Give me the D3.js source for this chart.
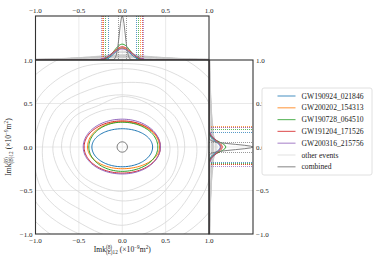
<!DOCTYPE html>
<html><head><meta charset="utf-8">
<script src="https://cdn.jsdelivr.net/npm/d3@7"></script>
<style>body{margin:0;background:#fff}svg{display:block}text{font-family:"Liberation Serif","DejaVu Serif",serif;fill:#222}</style>
</head><body><svg id="c" width="374" height="264"></svg>
<script>
// ---------- data ----------
const events = ["GW190924_021846","GW200202_154313","GW190728_064510","GW191204_171526","GW200316_215756"];
const colors = ["#1f77b4","#ff7f0e","#2ca02c","#d62728","#9467bd"];
// 90% contour extents (x 10^-9 m^2)
const contourLeft   = [0.35, 0.40, 0.385, 0.44, 0.45];
const contourRight  = [0.35, 0.43, 0.41, 0.44, 0.44];
const contourTop    = [0.21, 0.29, 0.285, 0.30, 0.32];
const contourBottom = [0.227, 0.25, 0.28, 0.30, 0.31];
const combinedRadius = 0.06;
// marginals: sigma and peak height (relative)
const xMargSigma = [0.085, 0.10, 0.09, 0.10, 0.11];
const xMargPeak  = [0.27, 0.27, 0.36, 0.30, 0.25];
const yMargSigma = [0.06, 0.07, 0.06, 0.07, 0.075];
const yMargPeak  = [0.26, 0.27, 0.38, 0.30, 0.26];
const combinedSigmaX = 0.033, combinedSigmaY = 0.03, combinedPeak = 1.0;
// credible intervals
const xCILow  = [-0.17, -0.235, -0.20, -0.225, -0.245];
const xCIHigh = [0.16, 0.21, 0.18, 0.23, 0.24];
const yCILow  = [-0.175, -0.19, -0.18, -0.20, -0.215];
const yCIHigh = [0.17, 0.245, 0.21, 0.225, 0.235];
const combinedCIX = [-0.05, 0.045];
const combinedCIY = [-0.06, 0.06];
// other events: contour radii at 0,30,...,330 degrees
const otherContours = [
 [0.55,0.50,0.46,0.44,0.48,0.56,0.60,0.58,0.52,0.51,0.50,0.54],
 [0.64,0.60,0.58,0.58,0.55,0.66,0.70,0.64,0.60,0.62,0.63,0.66],
 [0.72,0.70,0.62,0.60,0.63,0.72,0.80,0.76,0.70,0.77,0.72,0.70],
 [0.86,0.80,0.80,0.74,0.76,0.88,0.92,0.94,0.86,0.90,0.84,0.86],
 [0.98,0.95,0.92,0.90,0.90,0.98,1.02,1.05,1.00,1.05,1.00,0.95],
 [1.06,1.12,1.02,0.96,1.04,1.12,1.10,1.18,1.12,1.10,1.10,1.08],
 [1.15,1.28,1.22,1.06,1.22,1.32,1.20,1.32,1.28,1.15,1.22,1.25],
 [1.32,1.42,1.36,1.22,1.36,1.46,1.30,1.42,1.40,1.30,1.38,1.42]
];
const otherXSigma = [0.35,0.45,0.55,0.30,0.60,0.50,0.40,0.70,0.15,0.18];
const otherXPeak  = [0.10,0.08,0.07,0.12,0.06,0.09,0.11,0.05,0.20,0.17];
const otherYSigma = [0.30,0.40,0.50,0.35,0.60,0.45,0.55,0.70,0.12,0.16];
const otherYPeak  = [0.10,0.09,0.07,0.11,0.06,0.08,0.07,0.05,0.18,0.15];
const ticks = [-1.0,-0.5,0.0,0.5,1.0];
const gridVals = [-0.5,0.0,0.5];

// ---------- layout ----------
const svg = d3.select("#c");
const L=35.5, R=209, T=60, B=234, TT=16, RR=253;
const x = d3.scaleLinear().domain([-1,1]).range([L,R]);
const y = d3.scaleLinear().domain([-1,1]).range([B,T]);
const yTop = d3.scaleLinear().domain([0,1]).range([T,TT]);
const xRight = d3.scaleLinear().domain([0,1]).range([R,RR]);
const fmt = d => d3.format(".1f")(d).replace("-","\u2212");
const snap = v => Math.round(v);

const defs = svg.append("defs");
defs.append("clipPath").attr("id","cm").append("rect").attr("x",L).attr("y",T).attr("width",R-L).attr("height",B-T);
defs.append("clipPath").attr("id","ct").append("rect").attr("x",L).attr("y",TT).attr("width",R-L).attr("height",T-TT);
defs.append("clipPath").attr("id","cr").append("rect").attr("x",R).attr("y",T).attr("width",RR-R).attr("height",B-T);

const gridColor="#e3e3e3";
const gM = svg.append("g");
gridVals.forEach(v=>{
  gM.append("line").attr("x1",x(v)).attr("x2",x(v)).attr("y1",T).attr("y2",B).attr("stroke",gridColor).attr("stroke-width",0.8);
  gM.append("line").attr("x1",L).attr("x2",R).attr("y1",y(v)).attr("y2",y(v)).attr("stroke",gridColor).attr("stroke-width",0.8);
  gM.append("line").attr("x1",x(v)).attr("x2",x(v)).attr("y1",TT).attr("y2",T).attr("stroke",gridColor).attr("stroke-width",0.8);
  gM.append("line").attr("x1",R).attr("x2",RR).attr("y1",y(v)).attr("y2",y(v)).attr("stroke",gridColor).attr("stroke-width",0.8);
});

// main panel
const mainG = svg.append("g").attr("clip-path","url(#cm)");
const angles = d3.range(12).map(i=>i*Math.PI/6);
const closedLine = d3.line().x(d=>x(d[0])).y(d=>y(d[1])).curve(d3.curveCatmullRomClosed);
otherContours.forEach(rs=>{
  const pts = rs.map((r,i)=>[r*Math.cos(angles[i]), r*Math.sin(angles[i])]);
  mainG.append("path").attr("d",closedLine(pts)).attr("fill","none").attr("stroke","#d6d6d6").attr("stroke-width",0.8);
});
const ts = d3.range(0,2*Math.PI,Math.PI/60);
const smoothLine = d3.line().x(d=>x(d[0])).y(d=>y(d[1])).curve(d3.curveLinearClosed);
events.forEach((e,i)=>{
  const pts = ts.map(t=>{const c=Math.cos(t), s=Math.sin(t);
    return [(c>=0?contourRight[i]:contourLeft[i])*c, (s>=0?contourTop[i]:contourBottom[i])*s];});
  mainG.append("path").attr("d",smoothLine(pts)).attr("fill","none").attr("stroke",colors[i]).attr("stroke-width",1);
});
mainG.append("circle").attr("cx",x(0)).attr("cy",y(0)).attr("r",x(combinedRadius)-x(0)).attr("fill","none").attr("stroke","#808080").attr("stroke-width",1);

// dotted helpers (1px dots every 2px)
function vDots(g, xv, y0, y1, color, op){
  d3.range(Math.ceil(y0), y1, 2).forEach(yy=>g.append("rect").attr("x",snap(xv)).attr("y",yy).attr("width",1).attr("height",1).attr("fill",color).attr("fill-opacity",op));
}
function hDots(g, yv, x0, x1, color, op){
  d3.range(Math.ceil(x0), x1, 2).forEach(xx=>g.append("rect").attr("x",xx).attr("y",snap(yv)).attr("width",1).attr("height",1).attr("fill",color).attr("fill-opacity",op));
}

// top marginal
const topG = svg.append("g").attr("clip-path","url(#ct)");
const xs = d3.range(-1,1.0001,0.01);
const gauss = (v,s,p)=>p*Math.exp(-v*v/(2*s*s));
const topLine = d3.line().x(d=>x(d[0])).y(d=>yTop(d[1]));
otherXSigma.forEach((s,i)=>{
  topG.append("path").attr("d",topLine(xs.map(v=>[v,gauss(v,s,otherXPeak[i])]))).attr("fill","none").attr("stroke","#c8c8c8").attr("stroke-width",0.8);
});
events.forEach((e,i)=>{ [xCILow[i],xCIHigh[i]].forEach(v=>vDots(topG, x(v), TT, T, colors[i], 0.75)); });
combinedCIX.forEach(v=>vDots(topG, x(v), TT, T, "#999", 1));
events.forEach((e,i)=>{
  topG.append("path").attr("d",topLine(xs.map(v=>[v,gauss(v,xMargSigma[i],xMargPeak[i])]))).attr("fill","none").attr("stroke",colors[i]).attr("stroke-width",1);
});
topG.append("path").attr("d",topLine(xs.map(v=>[v,gauss(v,combinedSigmaX,combinedPeak)]))).attr("fill","none").attr("stroke","#808080").attr("stroke-width",1);

// right marginal
const rightG = svg.append("g").attr("clip-path","url(#cr)");
const rLine = d3.line().x(d=>xRight(d[1])).y(d=>y(d[0]));
otherYSigma.forEach((s,i)=>{
  rightG.append("path").attr("d",rLine(xs.map(v=>[v,gauss(v,s,otherYPeak[i])]))).attr("fill","none").attr("stroke","#c8c8c8").attr("stroke-width",0.8);
});
events.forEach((e,i)=>{ [yCILow[i],yCIHigh[i]].forEach(v=>hDots(rightG, y(v), R, RR, colors[i], 0.75)); });
combinedCIY.forEach(v=>hDots(rightG, y(v), R, RR, "#999", 1));
events.forEach((e,i)=>{
  rightG.append("path").attr("d",rLine(xs.map(v=>[v,gauss(v,yMargSigma[i],yMargPeak[i])]))).attr("fill","none").attr("stroke",colors[i]).attr("stroke-width",1);
});
rightG.append("path").attr("d",rLine(xs.map(v=>[v,gauss(v,combinedSigmaY,combinedPeak)]))).attr("fill","none").attr("stroke","#808080").attr("stroke-width",1);

// frames
const frame = svg.append("g").attr("fill","none").attr("stroke","#333").attr("stroke-width",1.1);
frame.append("rect").attr("x",L).attr("y",T).attr("width",R-L).attr("height",B-T);
frame.append("rect").attr("x",L).attr("y",TT).attr("width",R-L).attr("height",T-TT);
frame.append("rect").attr("x",R).attr("y",T).attr("width",RR-R).attr("height",B-T);

// tick labels
const tl = svg.append("g").attr("font-size",7);
ticks.forEach(v=>{
  tl.append("text").attr("x",x(v)).attr("y",13).attr("text-anchor","middle").text(fmt(v));
  tl.append("text").attr("x",x(v)).attr("y",243).attr("text-anchor","middle").text(fmt(v));
  tl.append("text").attr("x",L-3).attr("y",y(v)+2.5).attr("text-anchor","end").text(fmt(v));
  tl.append("text").attr("x",RR+3).attr("y",y(v)+2.5).attr("text-anchor","start").text(fmt(v));
});

// axis labels
function mathLabel(g, sub){
  let cx=0;
  const add=(t,size,dy)=>{const el=g.append("text").attr("x",cx).attr("y",dy).attr("font-size",size).text(t);
    const w=el.node().getComputedTextLength(); cx+=w; return w;};
  add("Imk",7.6,0);
  const x0=cx; const w1=add("(8)",5.2,-3.2); cx=x0; const w2=add(sub,5.2,2.2);
  cx=x0+Math.max(w1,w2)+2;
  add("(\u00d710",7.6,0); add("\u22129",5.2,-3.2); add("m",7.6,0); add("2",5.2,-3.2); add(")",7.6,0);
  return cx;
}
const xl = svg.append("g"); const wx = mathLabel(xl,"(E)12");
xl.attr("transform",`translate(${x(0)-wx/2},252)`);
const yl = svg.append("g"); const wy = mathLabel(yl,"(B)12");
yl.attr("transform",`translate(11,${y(0)+wy/2}) rotate(-90)`);

// legend
const lg = svg.append("g");
lg.append("rect").attr("x",262).attr("y",88).attr("width",110).attr("height",87).attr("rx",2).attr("fill","#fff").attr("stroke","#d8d8d8").attr("stroke-width",0.8);
const legNames = events.concat(["other events","combined"]);
const legColors = colors.concat(["#e6e6e6","#999"]);
legNames.forEach((n,i)=>{
  const yy = 96 + i*11.8;
  lg.append("line").attr("x1",277.5).attr("x2",295.5).attr("y1",yy).attr("y2",yy).attr("stroke",legColors[i]).attr("stroke-opacity",i<5?0.7:1).attr("stroke-width",1.2);
  lg.append("text").attr("x",301.5).attr("y",yy+2.6).attr("font-size",7.6).text(n);
});
</script></body></html>
